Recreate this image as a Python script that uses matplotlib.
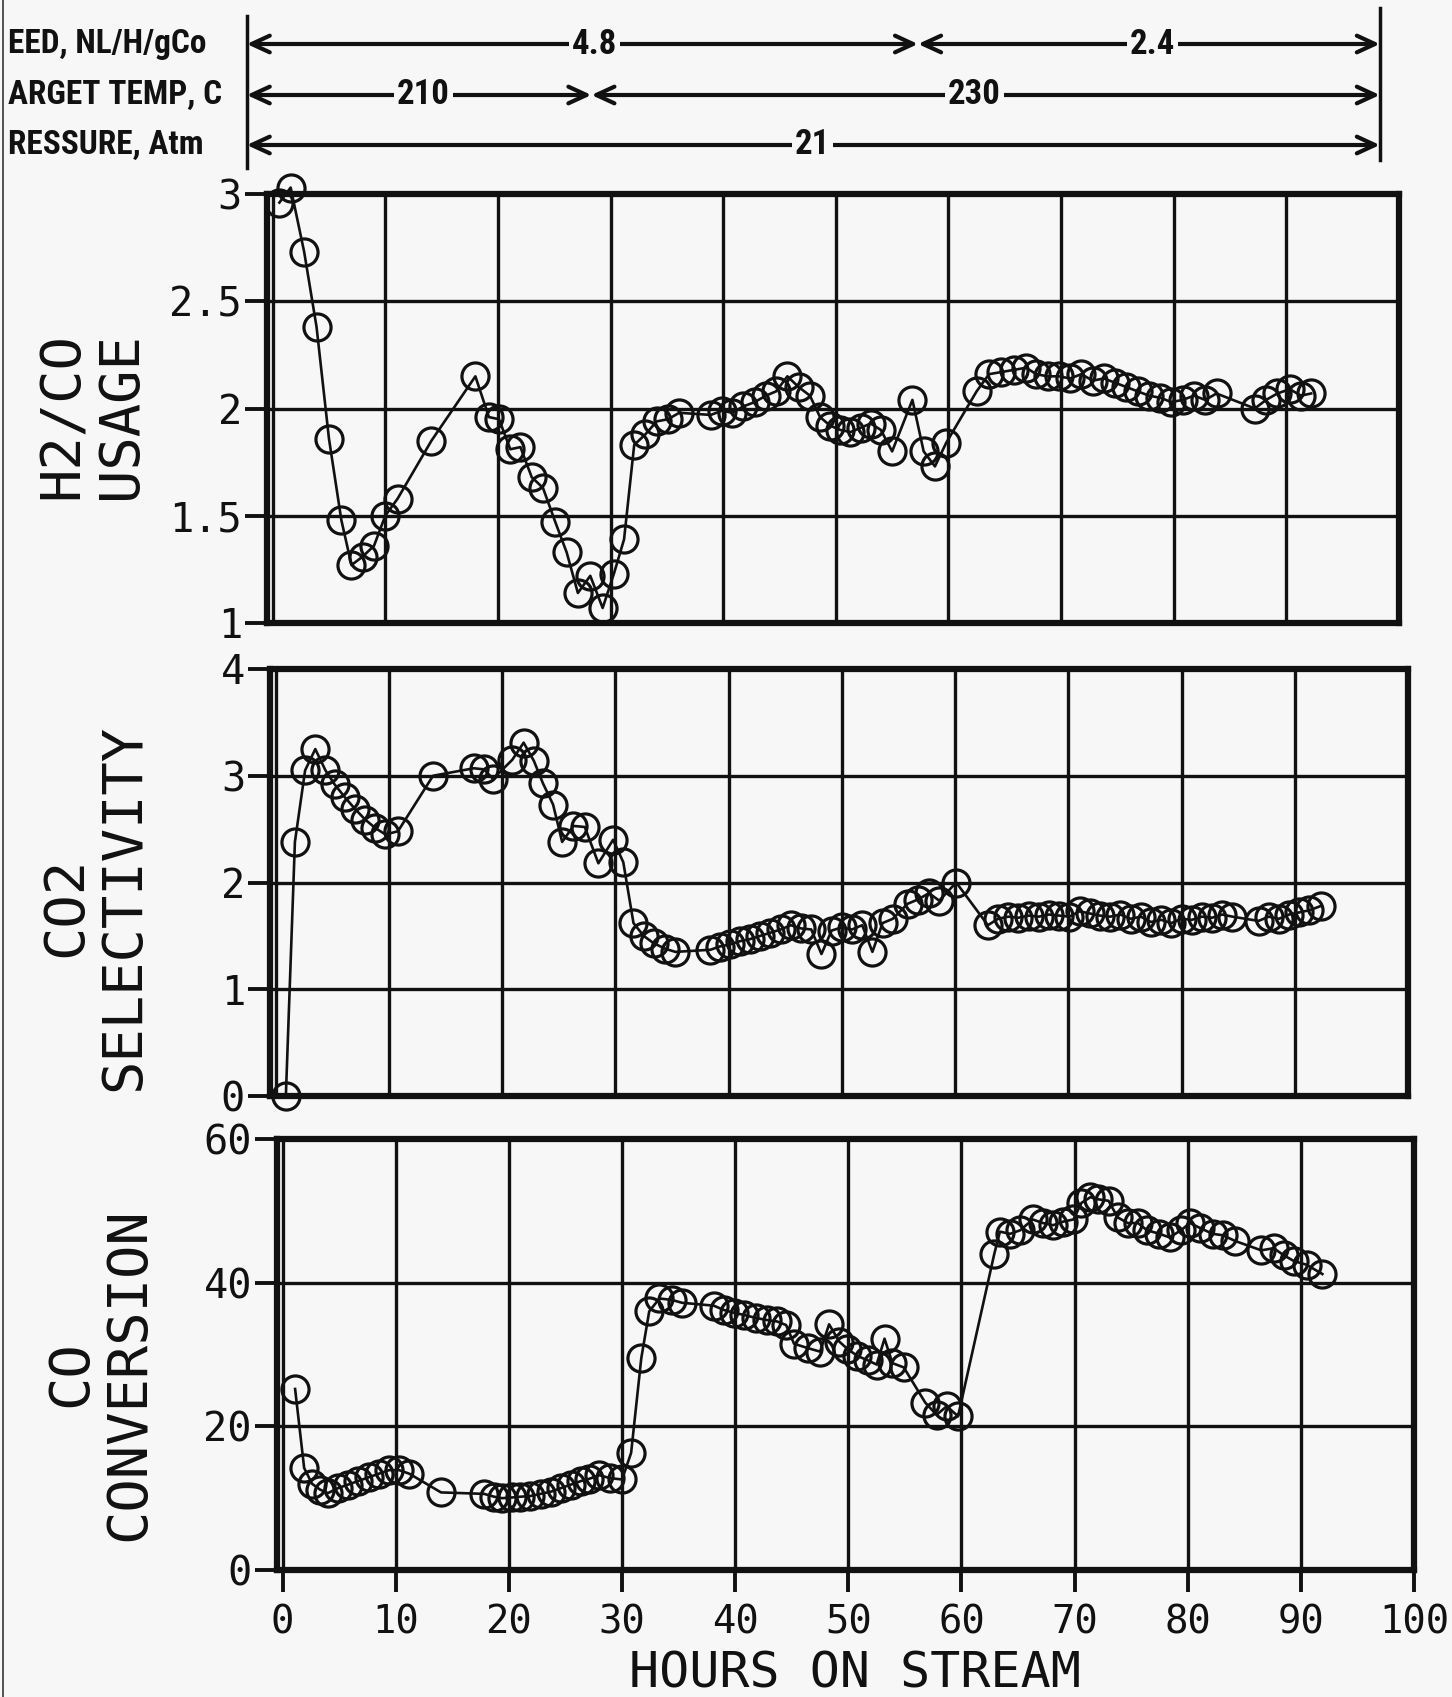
import matplotlib
matplotlib.use("Agg")
import matplotlib.pyplot as plt
from matplotlib import font_manager
from matplotlib.lines import Line2D

# ---------------- data ----------------
h2_hours = [0.6, 1.6, 2.8, 3.9, 5.0, 6.1, 7.0, 8.0, 9.0, 10.0, 11.1, 14.1, 18.0, 19.2, 20.1,
            21.1, 22.0, 23.0, 24.0, 25.1, 26.1, 27.1, 28.2, 29.3, 30.3, 31.2, 32.1, 33.1, 34.1,
            35.1, 36.1, 38.9, 39.9, 40.8, 41.8, 42.8, 43.8, 44.7, 45.7, 46.7, 47.7, 48.6, 49.5,
            50.4, 51.3, 52.2, 53.1, 54.0, 55.0, 56.8, 57.8, 58.8, 59.8, 62.5, 63.6, 64.7, 65.8,
            66.9, 67.8, 68.8, 69.8, 70.8, 71.8, 72.8, 73.8, 74.8, 75.8, 76.8, 77.8, 78.8, 79.8,
            80.8, 81.8, 82.8, 83.8, 87.2, 88.2, 89.2, 90.3, 91.3, 92.2]
h2_co_usage = [2.96, 3.03, 2.73, 2.38, 1.86, 1.48, 1.27, 1.31, 1.36, 1.50, 1.58, 1.85, 2.15, 1.96, 1.95,
               1.81, 1.82, 1.68, 1.63, 1.47, 1.33, 1.14, 1.22, 1.07, 1.23, 1.39, 1.83, 1.88, 1.94,
               1.95, 1.98, 1.97, 1.99, 1.98, 2.01, 2.03, 2.06, 2.08, 2.15, 2.10, 2.06, 1.96, 1.92,
               1.90, 1.89, 1.91, 1.93, 1.90, 1.80, 2.04, 1.80, 1.73, 1.84, 2.08, 2.16, 2.17, 2.18,
               2.19, 2.16, 2.15, 2.15, 2.14, 2.16, 2.13, 2.14, 2.12, 2.10, 2.08, 2.06, 2.05, 2.03,
               2.04, 2.06, 2.04, 2.07, 2.00, 2.04, 2.07, 2.09, 2.06, 2.07]

co2_hours = [0.9, 1.7, 2.6, 3.5, 4.4, 5.2, 6.1, 7.0, 7.9, 8.8, 9.7, 10.8, 13.9, 17.5, 18.4, 19.2,
             20.9, 21.9, 22.8, 23.6, 24.5, 25.3, 26.3, 27.3, 28.5, 29.8, 30.7, 31.6, 32.5, 33.4,
             34.4, 35.3, 38.4, 39.2, 40.1, 41.0, 41.9, 42.8, 43.7, 44.6, 45.5, 46.4, 47.3, 48.2,
             49.1, 50.0, 50.9, 51.8, 52.7, 53.6, 54.5, 55.8, 56.7, 57.7, 58.6, 60.1, 62.9, 63.8,
             64.7, 65.6, 66.5, 67.4, 68.3, 69.2, 70.1, 71.0, 71.9, 72.8, 73.7, 74.6, 75.5, 76.4,
             77.3, 78.2, 79.1, 80.0, 80.9, 81.8, 82.7, 83.6, 84.5, 86.8, 87.7, 88.6, 89.5, 90.4,
             91.3, 92.3]
co2_selectivity = [0.00, 2.38, 3.05, 3.25, 3.05, 2.92, 2.80, 2.69, 2.59, 2.51, 2.45, 2.48, 3.00, 3.07,
                   3.06, 2.97, 3.15, 3.31, 3.14, 2.93, 2.73, 2.38, 2.53, 2.52, 2.18, 2.40, 2.19, 1.62,
                   1.50, 1.43, 1.38, 1.35, 1.37, 1.40, 1.42, 1.45, 1.47, 1.50, 1.53, 1.56, 1.60, 1.57,
                   1.56, 1.33, 1.55, 1.58, 1.56, 1.60, 1.35, 1.62, 1.66, 1.80, 1.84, 1.90, 1.83, 2.00,
                   1.60, 1.66, 1.68, 1.67, 1.69, 1.68, 1.70, 1.69, 1.68, 1.73, 1.71, 1.69, 1.68, 1.70,
                   1.66, 1.68, 1.63, 1.65, 1.62, 1.66, 1.65, 1.68, 1.67, 1.70, 1.68, 1.64, 1.68, 1.66,
                   1.70, 1.72, 1.74, 1.78]

co_hours = [1.1, 1.9, 2.6, 3.3, 4.0, 4.9, 5.8, 6.7, 7.6, 8.5, 9.4, 10.3, 11.2, 14.0, 17.8, 18.7,
            19.4, 20.3, 21.0, 21.9, 22.8, 23.7, 24.6, 25.5, 26.4, 27.1, 28.0, 28.9, 30.0, 30.8,
            31.7, 32.4, 33.3, 34.4, 35.3, 38.1, 39.0, 39.9, 40.8, 41.8, 42.8, 43.7, 44.5, 45.2,
            46.4, 47.5, 48.3, 49.2, 49.9, 50.8, 51.7, 52.5, 53.2, 53.9, 54.9, 56.8, 57.8, 58.7,
            59.7, 62.9, 63.4, 64.3, 65.2, 66.3, 67.2, 68.1, 69.0, 69.9, 70.6, 71.4, 72.1, 73.0,
            73.8, 74.7, 75.6, 76.4, 77.5, 78.4, 79.4, 80.2, 81.1, 82.2, 83.1, 84.2, 86.5, 87.6,
            88.5, 89.4, 90.5, 91.9]
co_conversion = [25.2, 14.2, 12.0, 11.2, 10.7, 11.4, 11.9, 12.4, 12.9, 13.4, 13.9, 13.9, 13.4, 10.8,
                 10.6, 10.2, 10.0, 10.1, 10.2, 10.3, 10.6, 10.9, 11.4, 11.9, 12.4, 12.7, 13.2, 12.8,
                 12.6, 16.3, 29.5, 36.0, 37.8, 37.6, 37.2, 36.8, 36.2, 35.8, 35.5, 35.1, 34.8, 34.6,
                 34.1, 31.5, 30.9, 30.4, 34.2, 31.8, 30.8, 29.8, 29.2, 28.6, 32.2, 28.8, 28.2, 23.3,
                 21.6, 22.8, 21.4, 44.0, 47.1, 46.8, 47.3, 48.8, 48.3, 48.0, 48.5, 48.8, 51.1, 51.9,
                 51.6, 51.4, 49.1, 48.3, 48.3, 47.3, 46.8, 46.3, 47.3, 48.3, 47.6, 46.8, 46.6, 45.8,
                 44.5, 44.8, 43.8, 43.0, 42.5, 41.2]

x_ticks = [0, 10, 20, 30, 40, 50, 60, 70, 80, 90, 100]
h2_ticks = [1, 1.5, 2, 2.5, 3]
h2_tick_labels = ["1", "1.5", "2", "2.5", "3"]
co2_ticks = [0, 1, 2, 3, 4]
co_ticks = [0, 20, 40, 60]

# run conditions (hours where the setting changes)
feed_change_hr = 57.3
temp_change_hr = 28.3
cond_start_hr, cond_end_hr = -2.3, 98.3
feed_labels = ["4.8", "2.4"]
temp_labels = ["210", "230"]
pressure_label = "21"
row_names = ["EED, NL/H/gCo", "ARGET TEMP, C", "RESSURE, Atm"]

# ---------------- style ----------------
W, H = 1452, 1697
BG = "#f7f7f7"
INK = "#111111"
MONO = ["DejaVu Sans Mono"]

# prefer a condensed bold face for the run-condition header
_installed = {f.name for f in font_manager.fontManager.ttflist}
HEAD, HEAD_SIZE = ["Liberation Sans", "DejaVu Sans"], 22
for _name, _size in [("Liberation Sans Narrow", 24), ("Roboto Condensed", 24),
                     ("Open Sans Condensed", 24)]:
    if _name in _installed:
        HEAD, HEAD_SIZE = [_name], _size
        break

fig = plt.figure(figsize=(W / 100, H / 100), dpi=100, facecolor=BG)


def px_rect(left, top, right, bottom):
    return [left / W, 1 - bottom / H, (right - left) / W, (bottom - top) / H]


def style_axes(ax, yticks, yticklabels, ylim, show_x):
    ax.set_facecolor(BG)
    ax.set_xlim(-0.5, 100)
    ax.set_ylim(*ylim)
    ax.set_xticks(x_ticks)
    ax.set_yticks(yticks)
    ax.set_yticklabels(yticklabels, fontfamily=MONO, fontsize=29)
    ax.grid(True, color=INK, lw=2.4)
    ax.set_axisbelow(True)
    for sp in ax.spines.values():
        sp.set_linewidth(4.5)
        sp.set_color(INK)
    ax.tick_params(axis="y", direction="out", length=16, width=2.8, pad=2, colors=INK)
    if show_x:
        ax.set_xticklabels([str(t) for t in x_ticks], fontfamily=MONO, fontsize=28)
        ax.tick_params(axis="x", direction="out", length=16, width=2.8, pad=8, colors=INK)
    else:
        ax.tick_params(axis="x", length=0, labelbottom=False)


def draw_series(ax, x, y):
    ax.plot(x, y, "-", color=INK, lw=1.9, zorder=3, clip_on=False)
    ax.plot(x, y, "o", ms=19.5, mfc="none", mec=INK, mew=2.3, zorder=4, clip_on=False)


ax1 = fig.add_axes(px_rect(267, 194, 1399, 623))
ax2 = fig.add_axes(px_rect(270, 669, 1408, 1096))
ax3 = fig.add_axes(px_rect(277, 1139, 1414, 1570))

style_axes(ax1, h2_ticks, h2_tick_labels, (1, 3), False)
style_axes(ax2, co2_ticks, [str(t) for t in co2_ticks], (0, 4), False)
style_axes(ax3, co_ticks, [str(t) for t in co_ticks], (0, 60), True)

draw_series(ax1, h2_hours, h2_co_usage)
draw_series(ax2, co2_hours, co2_selectivity)
draw_series(ax3, co_hours, co_conversion)

# axis titles
ylab_kw = dict(rotation=90, ha="center", va="center", multialignment="center",
               fontfamily=MONO, fontsize=40, color=INK, linespacing=1.1)
fig.text(92 / W, 1 - 416 / H, "H2/CO\nUSAGE", **ylab_kw)
fig.text(95 / W, 1 - 907 / H, "CO2\nSELECTIVITY", **ylab_kw)
fig.text(100 / W, 1 - 1374 / H, "CO\nCONVERSION", **ylab_kw)
fig.text(855 / W, 1 - 1673 / H, "HOURS ON STREAM", ha="center", va="center",
         fontfamily=MONO, fontsize=36, color=INK)

# thin rule along the left edge of the sheet
fig.add_artist(Line2D([2.5 / W, 2.5 / W], [0, 1], lw=1.3, color="#444444"))

# ---------------- run-condition header ----------------
axh = fig.add_axes(px_rect(267, 0, 1399, 190))
axh.set_xlim(-0.5, 100)
axh.set_ylim(190, 0)
axh.axis("off")

row_y = [44, 95, 145]
axh.plot([cond_start_hr, cond_start_hr], [16, 168], color=INK, lw=2.5, clip_on=False)
axh.plot([cond_end_hr, cond_end_hr], [8, 160], color=INK, lw=2.5, clip_on=False)


def span(x0, x1, y):
    axh.annotate("", xy=(x1, y), xytext=(x0, y), xycoords="data", textcoords="data",
                 arrowprops=dict(arrowstyle="<->,head_length=1.3,head_width=0.6",
                                 lw=3, color=INK, shrinkA=0, shrinkB=0),
                 annotation_clip=False)


def span_label(x, y, s):
    axh.text(x, y, s, ha="center", va="center", fontfamily=HEAD, fontweight="bold",
             fontsize=HEAD_SIZE + 1, color=INK, zorder=5,
             bbox=dict(facecolor=BG, edgecolor="none", pad=2))


span(cond_start_hr, feed_change_hr, row_y[0])
span(feed_change_hr, cond_end_hr, row_y[0])
span(cond_start_hr, temp_change_hr, row_y[1])
span(temp_change_hr, cond_end_hr, row_y[1])
span(cond_start_hr, cond_end_hr, row_y[2])

span_label(28.6, row_y[0], feed_labels[0])
span_label(78.1, row_y[0], feed_labels[1])
span_label(13.4, row_y[1], temp_labels[0])
span_label(62.3, row_y[1], temp_labels[1])
span_label(47.9, row_y[2], pressure_label)

for name, y in zip(row_names, row_y):
    fig.text(8 / W, 1 - y / H, name, ha="left", va="center", fontfamily=HEAD,
             fontweight="bold", fontsize=HEAD_SIZE, color=INK)

fig.savefig("out.png", dpi=100, facecolor=BG)
